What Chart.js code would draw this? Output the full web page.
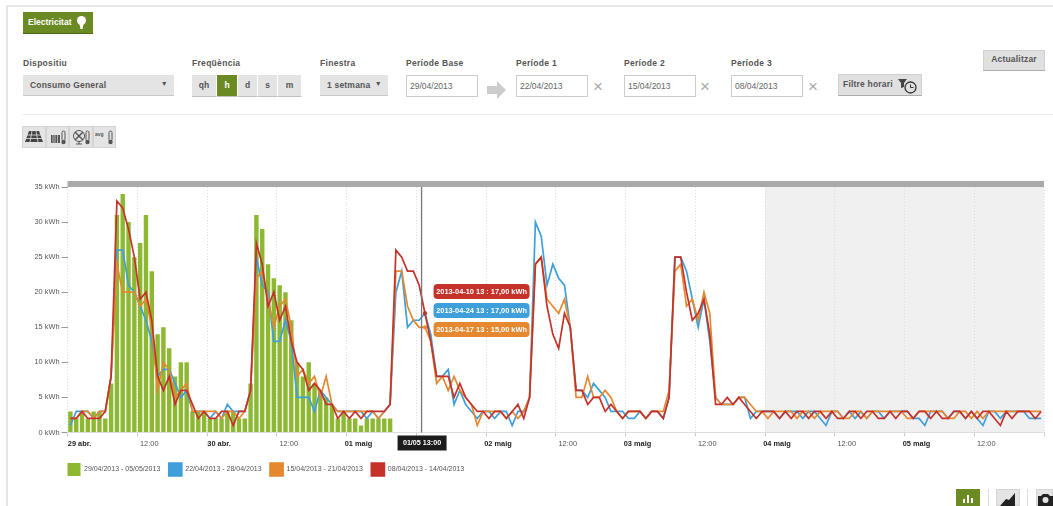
<!DOCTYPE html>
<html>
<head>
<meta charset="utf-8">
<title>Electricitat</title>
<script src="https://cdn.jsdelivr.net/npm/chart.js"></script>
<style>
html,body{margin:0;padding:0;background:#fff;width:1053px;height:506px;overflow:hidden;font-family:"Liberation Sans",Arial,sans-serif}
.a{position:absolute;box-sizing:border-box}
.lbl{font-size:8.5px;font-weight:bold;color:#555;top:58px;letter-spacing:.3px}
.sel{background:#e4e4e4;border-bottom:1px solid #c8c8c8;font-size:8.5px;font-weight:bold;color:#555;line-height:20px;padding-left:7px;height:21px;top:75px;letter-spacing:.2px}
.sel i{position:absolute;right:6px;top:-1px;font-style:normal;font-size:7px}
.seg{top:75px;height:22px;background:#e4e4e4;border-bottom:1px solid #c0c0c0;border-right:1px solid #fff;text-align:center;font-size:8.5px;font-weight:bold;color:#555;line-height:20px}
.inp{top:75px;height:22px;width:72px;border:1px solid #ccc;background:#fff;font-size:8.5px;color:#666;line-height:20px;padding-left:3px}
.x{top:80px;font-size:17px;line-height:14px;color:#aaa}
.btn{background:#e0e0e0;border:1px solid #d0d0d0;border-bottom:1px solid #aaa;font-size:8.5px;font-weight:bold;color:#555}
.ic{top:126px;width:23.5px;height:22px;background:#e4e4e4;border:1px solid #d4d4d4}
</style>
</head>
<body>
<div class="a" style="left:6px;top:5px;width:2px;height:501px;background:#e6e6e6"></div>
<div class="a" style="left:6px;top:5px;width:1047px;height:2px;background:#e6e6e6"></div>

<div class="a" style="left:23px;top:12px;width:70px;height:22px;background:#6b8a23;border-bottom:1px solid #4f6a14;color:#fff;font-size:8.5px;font-weight:bold;line-height:20px;padding-left:5px">Electricitat
  <svg style="position:absolute;left:53px;top:3px" width="11" height="15"><circle cx="5.5" cy="5.5" r="4.5" fill="#fff"/><path d="M3.5 9h4l-1 5h-2z" fill="#fff"/></svg>
</div>

<div class="a lbl" style="left:23px">Dispositiu</div>
<div class="a sel" style="left:23px;width:151px">Consumo General<i>▼</i></div>
<div class="a lbl" style="left:192px">Freqüència</div>
<div class="a seg" style="left:192px;width:25px">qh</div>
<div class="a seg" style="left:217px;width:21px;background:#6b8a23;color:#fff">h</div>
<div class="a seg" style="left:238px;width:20px">d</div>
<div class="a seg" style="left:258px;width:20px">s</div>
<div class="a seg" style="left:278px;width:24px">m</div>
<div class="a lbl" style="left:320px">Finestra</div>
<div class="a sel" style="left:320px;width:68px">1 setmana<i>▼</i></div>
<div class="a lbl" style="left:406px">Període Base</div>
<div class="a inp" style="left:406px">29/04/2013</div>
<svg class="a" style="left:487px;top:81px" width="20" height="18"><path d="M0 5h10V0l9 9-9 9v-5H0z" fill="#ccc"/></svg>
<div class="a lbl" style="left:516px">Període 1</div>
<div class="a inp" style="left:516px">22/04/2013</div>
<div class="a x" style="left:593px">×</div>
<div class="a lbl" style="left:624px">Període 2</div>
<div class="a inp" style="left:624px">15/04/2013</div>
<div class="a x" style="left:700px">×</div>
<div class="a lbl" style="left:731px">Període 3</div>
<div class="a inp" style="left:731px">08/04/2013</div>
<div class="a x" style="left:808px">×</div>
<div class="a btn" style="left:838px;top:74px;width:84px;height:22px;line-height:18px;padding-left:4px;letter-spacing:.2px">Filtre horari
  <svg style="position:absolute;left:58px;top:3px" width="22" height="17"><path d="M1 1h9L7 5v4L4 10V5z" fill="#444"/><circle cx="13.5" cy="9.5" r="5.5" fill="none" stroke="#333" stroke-width="1.3"/><path d="M13.5 6.5v3h3" fill="none" stroke="#333"/></svg>
</div>
<div class="a btn" style="left:983px;top:50px;width:62px;height:21px;line-height:17px;text-align:center;letter-spacing:.2px">Actualitzar</div>
<div class="a" style="left:23px;top:114px;width:1030px;height:1px;background:#eaeaea"></div>

<div class="a ic" style="left:22px"><svg width="22" height="20"><path d="M6 4h10l4 11H2z" fill="#444"/><path d="M2 8h18M1 11.5h20M9 4L7 15M13 4l2 11" stroke="#e4e4e4" stroke-width=".8"/></svg></div>
<div class="a ic" style="left:45.5px"><svg width="22" height="20"><path d="M4 8h9v8H4z" fill="#555"/><path d="M6 8v8M8 8v8M10.500 8v8" stroke="#e4e4e4" stroke-width=".7"/><rect x="15" y="4" width="3" height="10" rx="1.500" fill="none" stroke="#555"/><circle cx="16.500" cy="15" r="2.200" fill="#555"/></svg></div>
<div class="a ic" style="left:69px"><svg width="22" height="20"><circle cx="9" cy="9" r="5.500" fill="none" stroke="#555"/><path d="M5 5l8 8M13 5l-8 8" stroke="#555" stroke-width="1.500"/><path d="M6 17h6M9 14v3" stroke="#555"/><rect x="16" y="4" width="3" height="10" rx="1.500" fill="none" stroke="#555"/><circle cx="17.500" cy="15" r="2.200" fill="#555"/></svg></div>
<div class="a ic" style="left:92.5px"><svg width="22" height="20"><text x="1" y="9" font-size="5" font-weight="bold" fill="#555" font-family="Liberation Sans">avg</text><rect x="15" y="4" width="3" height="10" rx="1.500" fill="none" stroke="#555"/><circle cx="16.500" cy="15" r="2.200" fill="#555"/></svg></div>

<canvas id="chart" class="a" style="left:0;top:170px" width="1053" height="316"></canvas>

<div class="a" style="left:956px;top:489px;width:24px;height:17px;background:#6b8a23"><svg width="24" height="17"><path d="M7 14v-4h2v4zM11 14V6h2v8zM15 14V9h2v5z" fill="#fff"/></svg></div>
<div class="a" style="left:988px;top:489px;width:1px;height:17px;background:#ddd"></div>
<div class="a" style="left:996px;top:489px;width:24px;height:17px;background:#e4e4e4;border:1px solid #d4d4d4"><svg width="22" height="16"><path d="M3 16L9 9l3 1 6-7v13z" fill="#222"/></svg></div>
<div class="a" style="left:1027px;top:489px;width:1px;height:17px;background:#ddd"></div>
<div class="a" style="left:1036px;top:489px;width:17px;height:17px;background:#e4e4e4;border:1px solid #d4d4d4"><svg width="17" height="16"><path d="M1 6h3l2-2h5l2 2h3v10H1z" fill="#222"/><circle cx="8.500" cy="10" r="3" fill="#e4e4e4"/></svg></div>

<script>
// values, one row per day, 24 h a row
const actual = [
  3,2,3,2,3,3,2,7, 31,34,30,25,27,31,23,14, 15,12,8,10,10,3,3,3,
  2,2,2,3,3,2,2,7, 31,29,24,22,21,20,16,10, 8,10,7,6,5,4,2,3,
  2,2,1,2,2,2,2,2
];
const blue = [
  1,3,3,3,2,3,3,8, 26,26,21,20,18,16,13,8, 9,9,7,5,6,3,3,3,
  2,3,2,4,3,3,3,6, 25,21,20,13,13,16,13,5, 5,5,3,6,5,4,3,3,
  3,3,3,2,3,2,3,4, 20,23,15,16,16,17,14,8, 8,9,4,6,4,3,2,3,
  3,2,3,3,1,3,3,5, 30,28,21,24,22,21,15,6, 6,5,7,6,5,3,3,3,
  2,2,3,2,3,3,2,5, 25,25,23,19,15,19,13,5, 4,4,4,5,5,2,3,3,
  3,3,2,3,3,3,2,3, 3,2,1,3,3,2,3,2, 3,2,3,3,2,3,3,3,
  3,2,2,1,3,3,3,2, 3,3,2,3,2,1,3,3, 2,3,3,3,3,2,2,2
];
const orange = [
  2,2,3,3,2,3,3,8, 24,20,20,20,18,19,15,6, 10,9,5,6,7,3,3,3,
  3,3,2,3,3,2,3,6, 22,23,19,15,18,19,15,8, 9,7,8,5,8,4,3,3,
  3,3,3,3,3,2,3,4, 23,23,18,16,15,15,13,7, 8,6,8,6,5,4,1,3,
  3,3,3,2,3,2,3,5, 24,25,19,18,17,19,15,5, 5,8,5,5,6,5,3,2,
  3,3,3,2,3,3,3,6, 23,24,18,19,16,20,17,5, 4,4,4,5,5,4,3,3,
  2,3,3,3,3,2,3,3, 2,3,3,3,3,2,2,3, 3,2,3,3,3,3,3,3,
  2,2,3,3,3,3,3,2, 2,3,3,2,3,2,3,3, 3,3,3,3,3,3,3,3
];
const red = [
  2,2,3,2,2,2,3,8, 33,32,29,25,19,20,16,8, 6,8,4,6,6,4,2,3,
  2,2,3,3,1,3,3,6, 27,24,18,20,16,18,13,10, 9,6,7,6,4,4,2,3,
  2,3,2,3,3,3,3,4, 26,25,23,23,21,17,13,8, 8,8,5,7,5,4,3,3,
  2,3,3,2,3,4,2,5, 24,25,18,14,12,17,15,6, 6,4,5,5,3,4,3,2,
  3,3,3,2,3,3,2,5, 25,25,20,16,17,19,14,4, 4,5,4,5,4,3,2,3,
  3,3,2,3,2,3,3,2, 3,3,2,3,2,2,3,3, 2,3,3,2,2,3,2,3,
  3,2,3,3,2,3,2,2, 3,3,2,3,2,3,3,2, 1,3,2,3,3,3,2,3
];
const seriesNames = ["29/04/2013 - 05/05/2013", "22/04/2013 - 28/04/2013", "15/04/2013 - 21/04/2013", "08/04/2013 - 14/04/2013"];
const xTickLabels = ["29 abr.", "12:00", "30 abr.", "12:00", "01 maig", "12:00", "02 maig", "12:00", "03 maig", "12:00", "04 maig", "12:00", "05 maig", "12:00", ""];
const tipDates = ["2013-04-10 13", "2013-04-24 13", "2013-04-17 13"];
const cursorHour = 61;
const futureFrom = 120;

const GREEN = "#8db832", BLUE = "#3f9fdb", ORANGE = "#e5882f", RED = "#c5322a";

// hours sit in the middle of their slot, ticks on the slot edge
const pts = vals => vals.map((y, k) => ({ x: k + 0.5, y }));
const lineSet = (label, data, color, order) => ({
  type: "line", label, data: pts(data), order,
  borderColor: color, backgroundColor: color, borderWidth: 1.7, tension: 0,
  pointRadius: c => c.dataIndex === cursorHour ? 2 : 0, pointBackgroundColor: color, pointBorderWidth: 0
});
const isDay = c => c.tick && c.tick.value % 24 === 0;

const overlay = {
  id: "overlay",
  beforeDraw(chart) {
    const { ctx, chartArea: a, scales: { x } } = chart;
    ctx.fillStyle = "#f0f0f0";
    const fx = x.getPixelForValue(futureFrom);
    ctx.fillRect(fx, a.top, a.right - fx, a.bottom - a.top);
    ctx.fillStyle = "#aaaaaa";
    ctx.fillRect(a.left, a.top - 6, a.right - a.left, 6);
  },
  afterDraw(chart) {
    const { ctx, chartArea: a, scales: { x } } = chart;
    const cx = x.getPixelForValue(cursorHour) - 0.5;
    ctx.save();
    ctx.strokeStyle = "#777";
    ctx.lineWidth = 1.3;
    ctx.beginPath();
    ctx.moveTo(cx, a.top);
    ctx.lineTo(cx, a.bottom);
    ctx.stroke();

    ctx.fillStyle = "#1c1c1c";
    ctx.fillRect(cx - 24, a.bottom + 3, 49, 15);
    ctx.fillStyle = "#fff";
    ctx.font = "bold 7.2px 'Liberation Sans'";
    ctx.textAlign = "center";
    ctx.textBaseline = "middle";
    ctx.fillText("01/05 13:00", cx + 0.5, a.bottom + 11);

    const tips = [[red, RED, 0], [blue, BLUE, 1], [orange, ORANGE, 2]];
    tips.forEach(([vals, color, i]) => {
      const y = a.top + 97 + i * 19;
      ctx.fillStyle = color;
      ctx.beginPath();
      ctx.roundRect(cx + 12, y, 96, 15, 4);
      ctx.fill();
      ctx.fillStyle = "#fff";
      ctx.font = "bold 7.4px 'Liberation Sans'";
      ctx.fillText(tipDates[i] + " : " + vals[cursorHour].toFixed(2).replace(".", ",") + " kWh", cx + 60, y + 8);
    });
    ctx.restore();
  },
  afterLayout(chart) {
    // legend starts flush with the plot
    chart.legend.left -= 8.5;
    chart.legend.right -= 8.5;
  }
};

new Chart(document.getElementById("chart"), {
  type: "bar",
  data: {
    datasets: [
      { label: seriesNames[0], data: pts(actual), order: 4, backgroundColor: GREEN, borderColor: GREEN, borderWidth: 0, categoryPercentage: 1, barPercentage: 0.76 },
      lineSet(seriesNames[1], blue, BLUE, 3),
      lineSet(seriesNames[2], orange, ORANGE, 2),
      lineSet(seriesNames[3], red, RED, 1)
    ]
  },
  plugins: [overlay],
  options: {
    responsive: false,
    animation: false,
    layout: { autoPadding: false, padding: { top: 17, right: 9, left: 0, bottom: 0 } },
    plugins: {
      tooltip: { enabled: false },
      legend: {
        position: "bottom",
        align: "start",
        fullSize: false,
        labels: {
          boxWidth: 13, boxHeight: 13, padding: 8.5, color: "#555",
          font: { family: "'Liberation Sans'", size: 7 },
          sort: (p, q) => p.datasetIndex - q.datasetIndex
        }
      }
    },
    scales: {
      x: {
        type: "linear", min: 0, max: 168, offset: false,
        afterFit: s => { s.height = 22; },
        grid: { offset: false, color: "#dcdcdc", lineWidth: 1, tickColor: "#ccc", tickLength: 4 },
        border: { color: "#dddddd", dash: [1, 2] },
        ticks: {
          stepSize: 12, autoSkip: false, maxRotation: 0, labelOffset: 12, padding: 3,
          callback: v => xTickLabels[v / 12],
          color: c => isDay(c) ? "#222" : "#555",
          font: c => ({ family: "'Liberation Sans'", size: 7.4, weight: isDay(c) ? "bold" : "normal" })
        }
      },
      y: {
        min: 0, max: 35,
        afterFit: s => { s.width = 67.5; },
        grid: { drawOnChartArea: false, tickColor: "#999", tickLength: 6 },
        border: { display: false },
        ticks: { stepSize: 5, padding: 2, color: "#555", font: { family: "'Liberation Sans'", size: 7.4 }, callback: v => v + " kWh" }
      }
    }
  }
});
</script>
</body>
</html>
